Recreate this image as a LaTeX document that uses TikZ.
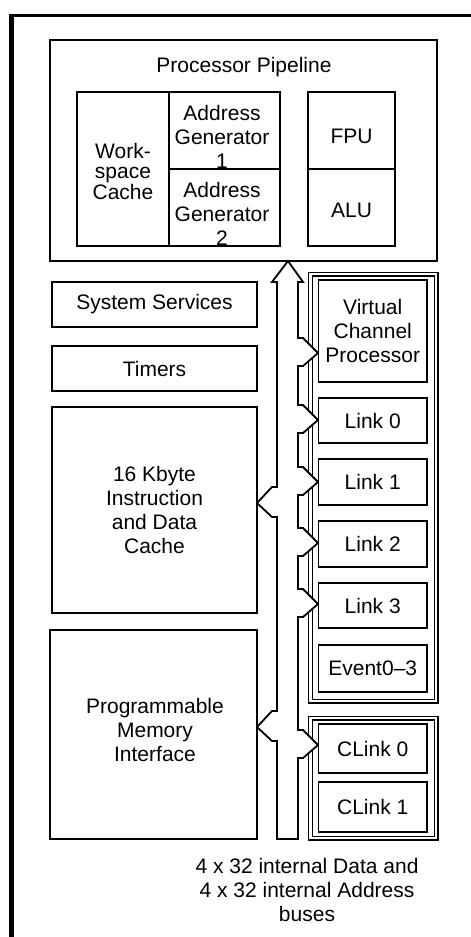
\documentclass[tikz,border=0pt]{standalone}
\usepackage{fontspec}
\setmainfont{Liberation Sans}
\newcommand{\myfs}{\fontsize{21}{24}\selectfont}
\newcommand{\myfsb}{\fontsize{21}{20.5}\selectfont}
\begin{document}
\begin{tikzpicture}[x=1pt,y=-1pt,
  box/.style={draw, line width=1.8pt, inner sep=0pt, align=center, font=\myfs, fill=white},
  txt/.style={inner sep=0pt, align=center, font=\myfs},
  ln/.style={line width=1.8pt}]
\useasboundingbox (0,0) rectangle (471,937);
\fill[white] (0,0) rectangle (471,937);
% outer frame
\draw[line width=5pt] (11,14) -- (11,937);
\draw[line width=3pt] (8.5,15) -- (471,15);
% right panels (double lines)
\node[box, minimum width=129.5pt, minimum height=430.5pt] (p1o) at (373.25,487.75) {};
\node[box, minimum width=122pt, minimum height=423.5pt] (p1i) at (373.5,487.75) {};
\node[box, minimum width=129.5pt, minimum height=123.5pt] (p2o) at (373.25,778.25) {};
\node[box, minimum width=122pt, minimum height=116.5pt] (p2i) at (373.5,778.25) {};
% internal bus
\draw[ln, fill=white, line join=miter] (288,261) -- (303,282) -- (298,282)
 -- (298,338) -- (303,338) -- (318,353) -- (303,366) -- (298,366)
 -- (298,405) -- (303,405) -- (318,420) -- (303,433) -- (298,433)
 -- (298,467) -- (303,467) -- (318,482) -- (303,495) -- (298,495)
 -- (298,528) -- (303,528) -- (318,543) -- (303,556) -- (298,556)
 -- (298,589) -- (303,589) -- (318,604) -- (303,617) -- (298,617)
 -- (298,730) -- (303,730) -- (318,745) -- (303,758) -- (298,758)
 -- (298,839) -- (277,839)
 -- (277,741) -- (272,741) -- (257,727) -- (272,711) -- (277,711)
 -- (277,517) -- (272,517) -- (257,503) -- (272,487) -- (277,487)
 -- (277,282) -- (272,282) -- cycle;
% processor pipeline
\node[box, minimum width=387pt, minimum height=221pt] (pipe) at (243.5,150.5) {};
\node[box, minimum width=92pt, minimum height=154pt] (ws) at (123,169) {};
\node[box, minimum width=111pt, minimum height=77pt] (ag1) at (224.5,130.5) {};
\node[box, minimum width=111pt, minimum height=77pt] (ag2) at (224.5,207.5) {};
\node[box, minimum width=87pt, minimum height=77pt] (fpu) at (351.5,130.5) {};
\node[box, minimum width=87pt, minimum height=77pt] (alu) at (351.5,207.5) {};
% left boxes
\node[box, minimum width=205pt, minimum height=45pt] (ss) at (154.5,304.5) {System Services};
\node[box, minimum width=205pt, minimum height=45pt] (tm) at (154.5,368.5) {Timers};
\node[box, minimum width=205pt, minimum height=206pt] (cache) at (154.5,510) {16 Kbyte\\Instruction\\and Data\\Cache};
\node[box, minimum width=207pt, minimum height=209pt] (pmi) at (153.5,734.5) {};
% right boxes
\node[box, minimum width=108.5pt, minimum height=102pt] (vcp) at (372.75,331) {Virtual\\Channel\\Processor};
\node[box, minimum width=108.5pt, minimum height=45pt] (l0) at (372.75,420.5) {Link 0};
\node[box, minimum width=108.5pt, minimum height=46pt] (l1) at (372.75,482) {Link 1};
\node[box, minimum width=108.5pt, minimum height=46pt] (l2) at (372.75,544) {Link 2};
\node[box, minimum width=108.5pt, minimum height=45pt] (l3) at (372.75,605.5) {Link 3};
\node[box, minimum width=108.5pt, minimum height=47pt] (ev) at (372.75,668.5) {Event0--3};
\node[box, minimum width=108.5pt, minimum height=49pt] (cl0) at (372.75,748.5) {CLink 0};
\node[box, minimum width=108.5pt, minimum height=50pt] (cl1) at (372.75,807) {CLink 1};
% texts
\node[txt] (tpipe) at (244,67) {Processor Pipeline};
\node[txt, font=\myfsb] (tws) at (123,171) {Work-\\space\\Cache};
\node[txt] (tag1) at (222,137) {Address\\Generator\\1};
\node[txt] (tag2) at (222,214) {Address\\Generator\\2};
\node[txt] (tfpu) at (351.5,136) {FPU};
\node[txt] (talu) at (351.5,210.5) {ALU};
\node[txt] (tpmi) at (155,730) {Programmable\\Memory\\Interface};
\node[txt] (cap) at (307,890) {4 x 32 internal Data and\\4 x 32 internal Address\\buses};
\end{tikzpicture}
\end{document}
